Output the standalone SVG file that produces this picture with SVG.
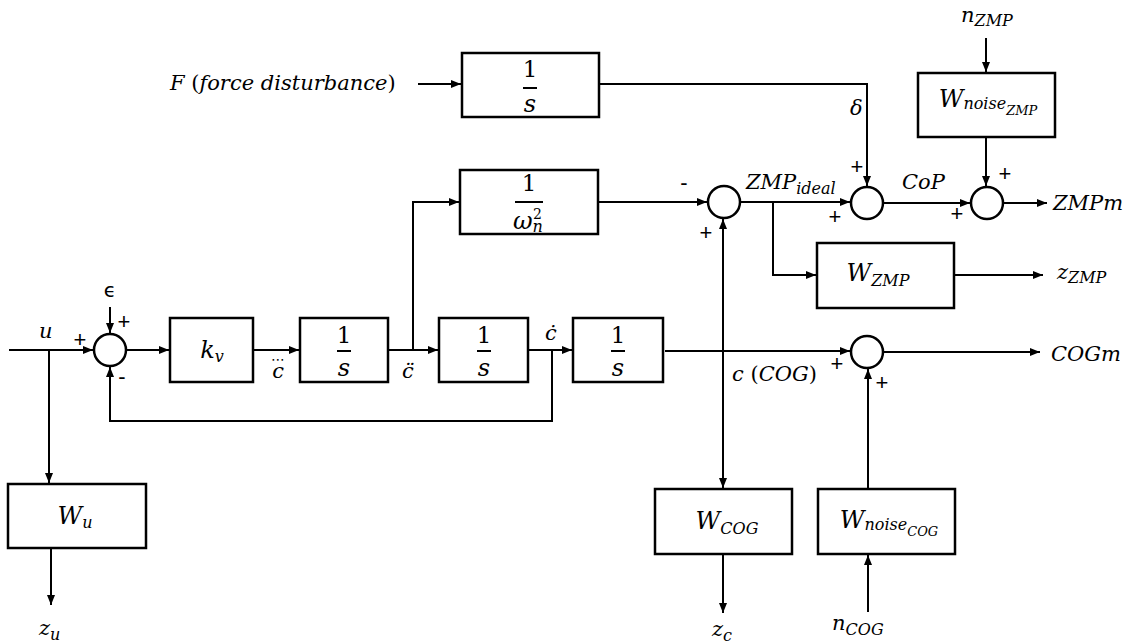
<svg xmlns="http://www.w3.org/2000/svg" width="1129" height="644" viewBox="0 0 1129 644">
<defs>
<style>
.ln{stroke:#000;stroke-width:2;fill:none}
.bx{fill:#fff;stroke:#000;stroke-width:2.5}
.sm{fill:#fff;stroke:#000;stroke-width:2.5}
.t{font-family:"DejaVu Serif","Liberation Serif",serif;font-style:italic;font-size:21px;fill:#000}
.tb{font-family:"DejaVu Serif","Liberation Serif",serif;font-style:italic;font-size:24px;fill:#000}
.up{font-style:normal}
.n{font-family:"DejaVu Serif","Liberation Serif",serif;font-size:23px;fill:#000;text-anchor:middle}
.sg{font-family:"Liberation Sans","DejaVu Sans",sans-serif;font-size:22px;fill:#000;text-anchor:middle}
.sub{font-size:16px}
.sub2{font-size:13px}
.mid{text-anchor:middle}
</style>
<marker id="ah" markerWidth="10" markerHeight="8" refX="10" refY="4" orient="auto" markerUnits="userSpaceOnUse"><path d="M0,0 L10,4 L0,8 z" fill="#000"/></marker>
</defs>
<rect width="1129" height="644" fill="#fff"/>

<g id="connectors">
<path class="ln" d="M9,350 H93" marker-end="url(#ah)"/>
<path class="ln" d="M49,350 V483" marker-end="url(#ah)"/>
<path class="ln" d="M51,548 V605" marker-end="url(#ah)"/>
<path class="ln" d="M110,307 V333" marker-end="url(#ah)"/>
<path class="ln" d="M126,350 H169" marker-end="url(#ah)"/>
<path class="ln" d="M253,350 H299" marker-end="url(#ah)"/>
<path class="ln" d="M388,350 H438" marker-end="url(#ah)"/>
<path class="ln" d="M413,350 V202 H459" marker-end="url(#ah)"/>
<path class="ln" d="M528,350 H572" marker-end="url(#ah)"/>
<path class="ln" d="M552,350 V421 H110 V367" marker-end="url(#ah)"/>
<path class="ln" d="M665,351 H850" marker-end="url(#ah)"/>
<path class="ln" d="M723,351 V219" marker-end="url(#ah)"/>
<path class="ln" d="M723,351 V488" marker-end="url(#ah)"/>
<path class="ln" d="M598,202 H707" marker-end="url(#ah)"/>
<path class="ln" d="M740,202 H850" marker-end="url(#ah)"/>
<path class="ln" d="M773,202 V275 H816" marker-end="url(#ah)"/>
<path class="ln" d="M599,84 H867 V186" marker-end="url(#ah)"/>
<path class="ln" d="M418,84 H461" marker-end="url(#ah)"/>
<path class="ln" d="M883,203 H970" marker-end="url(#ah)"/>
<path class="ln" d="M986,38 V72" marker-end="url(#ah)"/>
<path class="ln" d="M986,137 V186" marker-end="url(#ah)"/>
<path class="ln" d="M1003,203 H1047" marker-end="url(#ah)"/>
<path class="ln" d="M954,275 H1043" marker-end="url(#ah)"/>
<path class="ln" d="M883,352 H1040" marker-end="url(#ah)"/>
<path class="ln" d="M868,489 V369" marker-end="url(#ah)"/>
<path class="ln" d="M868,612 V555" marker-end="url(#ah)"/>
<path class="ln" d="M723,554 V613" marker-end="url(#ah)"/>
</g>

<g id="sum1"><circle class="sm" cx="110" cy="350" r="16"/></g>
<g id="sum2"><circle class="sm" cx="724" cy="202" r="16"/></g>
<g id="sum3"><circle class="sm" cx="867" cy="203" r="16"/></g>
<g id="sum4"><circle class="sm" cx="987" cy="203" r="16"/></g>
<g id="sumCOG"><circle class="sm" cx="867" cy="352" r="16"/></g>

<g id="kv"><rect class="bx" x="170" y="318" width="83" height="64"/>
<text class="tb mid" x="212" y="358">k<tspan class="sub" dy="4">v</tspan></text></g>

<g id="int1"><rect class="bx" x="300" y="318" width="88" height="64"/>
<text class="n" x="344" y="343">1</text><path class="ln" d="M337,351 H351"/>
<text class="tb mid" x="344" y="376">s</text></g>

<g id="int2"><rect class="bx" x="439" y="318" width="89" height="64"/>
<text class="n" x="484" y="343">1</text><path class="ln" d="M477,351 H491"/>
<text class="tb mid" x="484" y="376">s</text></g>

<g id="int3"><rect class="bx" x="573" y="318" width="90" height="64"/>
<text class="n" x="618" y="343">1</text><path class="ln" d="M611,351 H625"/>
<text class="tb mid" x="618" y="376">s</text></g>

<g id="omega"><rect class="bx" x="460" y="170" width="138" height="64"/>
<text class="n" x="529" y="191">1</text><path class="ln" d="M515,202 H543"/>
<text class="tb" x="513" y="229">ω<tspan class="sub" dy="3">n</tspan><tspan dx="-10" dy="-13" style="font-size:14px;font-style:normal">2</tspan></text></g>

<g id="force"><rect class="bx" x="462" y="53" width="137" height="64"/>
<text class="n" x="530" y="77">1</text><path class="ln" d="M523,88 H537"/>
<text class="tb mid" x="530" y="112">s</text></g>

<g id="WnoiseZMP"><rect class="bx" x="918" y="73" width="137" height="64"/>
<text class="tb mid" x="988" y="107">W<tspan class="sub" dy="2">noise</tspan><tspan class="sub2" dy="6">ZMP</tspan></text></g>

<g id="WZMP"><rect class="bx" x="817" y="243" width="137" height="65"/>
<text class="tb mid" x="878" y="281">W<tspan class="sub" dy="5">ZMP</tspan></text></g>

<g id="WCOG"><rect class="bx" x="655" y="489" width="137" height="65"/>
<text class="tb mid" x="727" y="529">W<tspan class="sub" dy="5">COG</tspan></text></g>

<g id="WnoiseCOG"><rect class="bx" x="818" y="489" width="137" height="65"/>
<text class="tb mid" x="889" y="528">W<tspan class="sub" dy="2">noise</tspan><tspan class="sub2" dy="6">COG</tspan></text></g>

<g id="Wu"><rect class="bx" x="8" y="484" width="138" height="64"/>
<text class="tb mid" x="75" y="524">W<tspan class="sub" dy="4">u</tspan></text></g>

<g id="labels">
<text class="t" x="39" y="338">u</text>
<text class="t" x="39" y="635">z<tspan class="sub" dy="5">u</tspan></text>
<text x="110" y="297" style="font-family:'DejaVu Sans',sans-serif;font-size:20px;text-anchor:middle">ϵ</text>
<text class="sg" x="80" y="347">+</text>
<text class="sg" x="124" y="329">+</text>
<text class="sg" x="122" y="384">-</text>
<text class="t" x="271" y="378">c<tspan dx="-13" dy="-14" style="font-family:'DejaVu Sans',sans-serif;font-size:14px;font-style:normal">⋯</tspan></text>
<text class="t" x="402" y="378">c̈</text>
<text class="t" x="545" y="340">ċ</text>
<text class="t" x="732" y="381">c <tspan class="up">(</tspan>COG<tspan class="up">)</tspan></text>
<text class="t" x="170" y="90">F <tspan class="up">(</tspan>force disturbance<tspan class="up">)</tspan></text>
<text class="t" x="746" y="189">ZMP<tspan class="sub" dy="5">ideal</tspan></text>
<text class="t" x="902" y="189">CoP</text>
<text class="t" x="850" y="115">δ</text>
<text class="t" x="961" y="22">n<tspan class="sub" dy="4">ZMP</tspan></text>
<text class="t" x="1053" y="210">ZMPm</text>
<text class="t" x="1057" y="279">z<tspan class="sub" dy="4">ZMP</tspan></text>
<text class="t" x="1051" y="361">COGm</text>
<text class="t" x="712" y="636">z<tspan class="sub" dy="5">c</tspan></text>
<text class="t" x="832" y="630">n<tspan class="sub" dy="5">COG</tspan></text>
<text class="sg" x="684" y="190">-</text>
<text class="sg" x="706" y="240">+</text>
<text class="sg" x="857" y="174">+</text>
<text class="sg" x="835" y="224">+</text>
<text class="sg" x="957" y="221">+</text>
<text class="sg" x="1005" y="181">+</text>
<text class="sg" x="837" y="371">+</text>
<text class="sg" x="882" y="390">+</text>
</g>
</svg>
